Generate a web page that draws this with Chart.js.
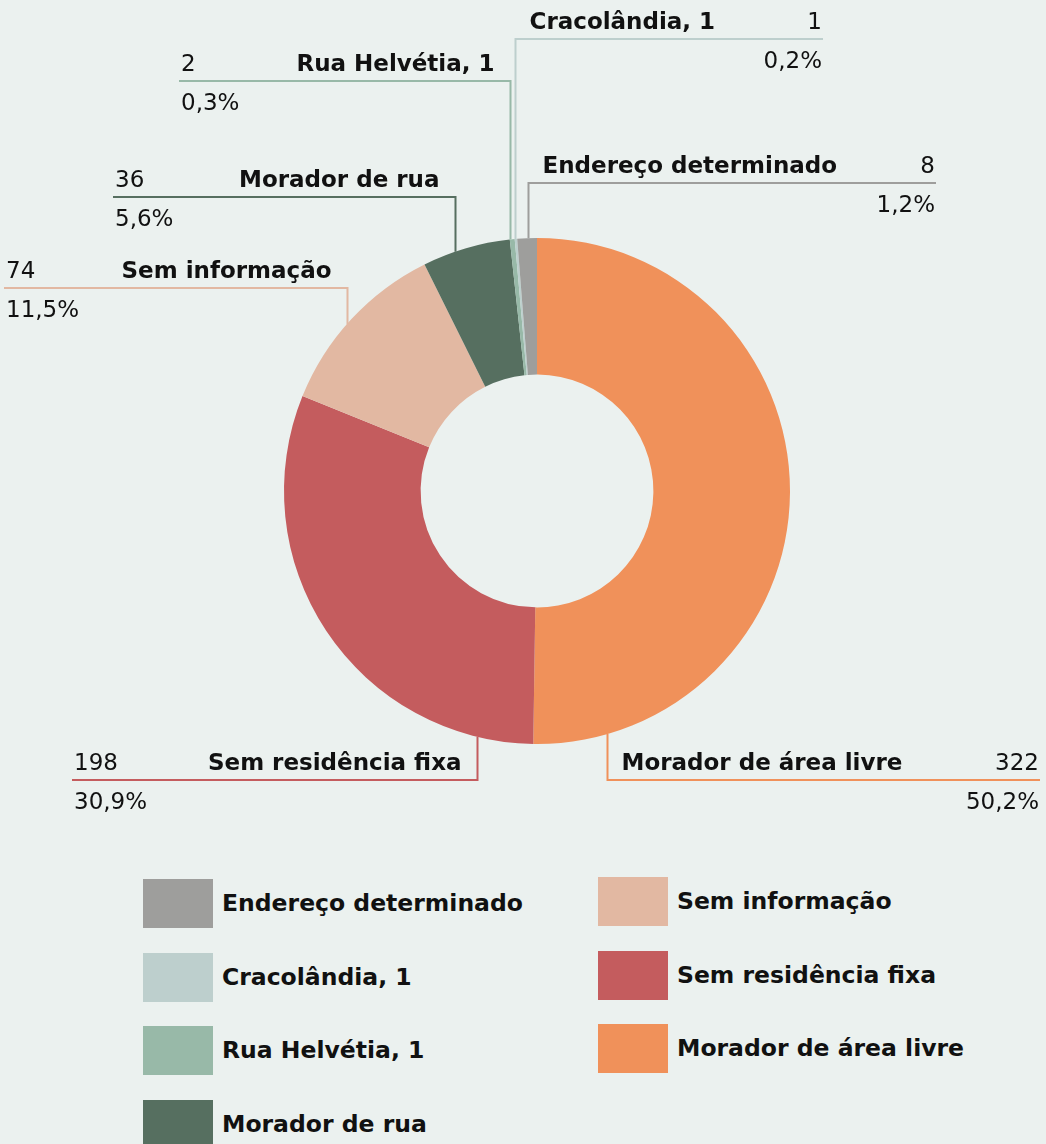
<!DOCTYPE html>
<html>
<head>
<meta charset="utf-8">
<script src="https://cdn.jsdelivr.net/npm/chart.js@4.4.1/dist/chart.umd.min.js"></script>
<style>
  html, body { margin: 0; padding: 0; background: #ebf1ef; }
  body { width: 1046px; height: 1144px; position: relative; overflow: hidden; font-family: "DejaVu Sans", sans-serif; }
  #wrap { position: absolute; left: 0; top: 0; width: 1046px; height: 840px; }
  #legenda { position: absolute; left: 143px; top: 879px; width: 900px; }
  .col { position: absolute; top: 0; }
  .item { height: 73.5px; display: flex; align-items: flex-start; }
  .caixa { width: 70px; height: 49px; flex: none; }
  .txt { margin-left: 9px; line-height: 49px; font-weight: bold; font-size: 23.5px; color: #111; white-space: nowrap; }
</style>
</head>
<body>
<div id="wrap"><canvas id="grafico"></canvas></div>
<div id="legenda"></div>
<script>
document.addEventListener("DOMContentLoaded", () => {
// datos, en el orden del gráfico (sentido horario desde arriba)
const categorias = ['Morador de área livre', 'Sem residência fixa', 'Sem informação', 'Morador de rua', 'Rua Helvétia, 1', 'Cracolândia, 1', 'Endereço determinado'];
const valores = [322, 198, 74, 36, 2, 1, 8];
const colores = ['#f0915a', '#c45c5e', '#e2b8a2', '#566f60', '#98b9a8', '#bdcfcd', '#9e9e9c'];

// posición de cada etiqueta: fracción del arco, altura de la línea, fin de la línea
const etiquetas = [
    { f: 0.906, y: 780, fin: 1040 },
    { f: 0.116, y: 780, fin: 72 },
    { f: 0.46, y: 288, fin: 4 },
    { f: 0.37, y: 197, fin: 113 },
    { f: 0.0, y: 81, fin: 179 },
    { f: 0.1, y: 39, fin: 823 },
    { f: 0.55, y: 183, fin: 936 }
];

const fuente = '"DejaVu Sans", sans-serif';
const total = valores.reduce((a, b) => a + b, 0);
const pct = v => (v / total * 100).toFixed(1).replace('.', ',') + '%';

const llamadas = {
    id: 'llamadas',
    afterDatasetsDraw(chart) {
        const c = chart.ctx;
        const arcos = chart.getDatasetMeta(0).data;
        arcos.forEach((arco, i) => {
            const e = etiquetas[i];
            const ang = arco.startAngle + e.f * (arco.endAngle - arco.startAngle);
            const px = Math.round(arco.x + arco.outerRadius * Math.cos(ang)) + 0.5;
            const py = arco.y + arco.outerRadius * Math.sin(ang);
            const derecha = e.fin > px;
            c.save();
            c.strokeStyle = colores[i];
            c.lineWidth = 2;
            c.beginPath();
            c.moveTo(px, py);
            c.lineTo(px, e.y);
            c.lineTo(e.fin, e.y);
            c.stroke();
            c.fillStyle = '#111';
            c.textBaseline = 'alphabetic';
            c.font = 'bold 23px ' + fuente;
            c.textAlign = derecha ? 'left' : 'right';
            c.fillText(categorias[i], derecha ? px + 14 : px - 16, e.y - 10);
            c.font = '23px ' + fuente;
            c.textAlign = derecha ? 'right' : 'left';
            const xv = derecha ? e.fin - 1 : e.fin + 2;
            c.fillText(String(valores[i]), xv, e.y - 10);
            c.fillText(pct(valores[i]), xv, e.y + 29);
            c.restore();
        });
    }
};

const ctx = document.getElementById('grafico').getContext('2d');
new Chart(ctx, {
    type: 'doughnut',
    data: {
        labels: categorias,
        datasets: [{
            data: valores,
            backgroundColor: colores,
            borderWidth: 0
        }]
    },
    options: {
        responsive: true,
        maintainAspectRatio: false,
        animation: false,
        cutout: '46%',
        layout: { padding: { left: 284, right: 256, top: 238, bottom: 96 } },
        plugins: { legend: { display: false }, tooltip: { enabled: false } }
    },
    plugins: [llamadas]
});

// leyenda en dos columnas, orden inverso al del gráfico
const leyenda = document.getElementById('legenda');
const orden = categorias.map((_, i) => i).reverse();
[orden.slice(0, 4), orden.slice(4)].forEach((grupo, k) => {
    const col = document.createElement('div');
    col.className = 'col';
    col.style.left = (k * 455) + 'px';
    col.style.top = (k * -2) + 'px';
    grupo.forEach(i => {
        const it = document.createElement('div');
        it.className = 'item';
        it.innerHTML = '<div class="caixa" style="background:' + colores[i] + '"></div><div class="txt">' + categorias[i] + '</div>';
        col.appendChild(it);
    });
    leyenda.appendChild(col);
});
});
</script>
</body>
</html>
